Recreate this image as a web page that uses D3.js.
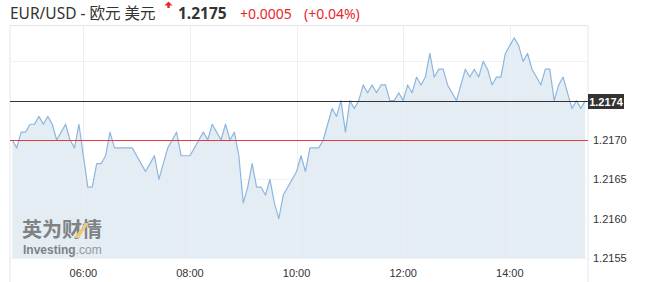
<!DOCTYPE html>
<html>
<head>
<meta charset="utf-8">
<script src="https://cdn.jsdelivr.net/npm/d3@7"></script>
<style>
  html, body { margin: 0; padding: 0; background: #fff; }
  svg { display: block; }
</style>
</head>
<body>
<div id="chart"></div>
<script>
// quote header
const symbol = 'EUR/USD - 欧元 美元';
const lastQuote = '1.2175';
const change = '+0.0005';
const changePct = '(+0.04%)';

// 5-minute closes, starting 04:40
const startTime = '2021-01-08T04:40';
const stepMinutes = 5;
const prices = [
    1.2170, 1.2169, 1.2171, 1.2171, 1.2172, 1.2172, 1.2173, 1.2172, 1.2173, 1.2172, 1.2170, 1.2171, 1.2172, 1.2170, 1.2169, 1.2172,
    1.2168, 1.2164, 1.2164, 1.2167, 1.2167, 1.2168, 1.2171, 1.2169, 1.2169, 1.2169, 1.2169, 1.2169,
    1.2168, 1.2167, 1.2166, 1.2167, 1.2168, 1.2165, 1.2167, 1.2169, 1.2170, 1.2171,
    1.2168, 1.2168, 1.2168, 1.2169, 1.2170, 1.2171, 1.2170, 1.2172, 1.2171, 1.2170, 1.2172, 1.2170, 1.2171,
    1.2168, 1.2162, 1.2164, 1.2167, 1.2164, 1.2164, 1.2163, 1.2165, 1.2162, 1.2160,
    1.2163, 1.2164, 1.2165, 1.2166, 1.2168, 1.2166, 1.2169, 1.2169, 1.2169, 1.2170,
    1.2172, 1.2174, 1.2173, 1.2175, 1.2171, 1.2175, 1.2174, 1.2175, 1.2177, 1.2176, 1.2177, 1.2176, 1.2177, 1.2177,
    1.2175, 1.2175, 1.2176, 1.2175, 1.2177, 1.2176, 1.2178, 1.2177, 1.2178, 1.2181, 1.2178,
    1.2179, 1.2179, 1.2177, 1.2176, 1.2175, 1.2177, 1.2179, 1.2178, 1.2179, 1.2178, 1.2180,
    1.2179, 1.2177, 1.2178, 1.2178, 1.2181, 1.2182, 1.2183, 1.2182, 1.2180, 1.2181,
    1.2179, 1.2178, 1.2177, 1.2179, 1.2179, 1.2175, 1.2177, 1.2178, 1.2176, 1.2174, 1.2175, 1.2174, 1.2175
];

const prevClose = 1.2170;
const currentPrice = 1.21749;
const xTickLabels = ['06:00', '08:00', '10:00', '12:00', '14:00'];
const yGridValues = [1.2155, 1.2160, 1.2165, 1.2170, 1.2175, 1.2180];
const yTickLabels = [1.2155, 1.2160, 1.2165, 1.2170];

const W = 648, H = 282;
const frame = { left: 10, right: 588, top: 25.5, bottom: 258 };

const parse = d3.timeParse('%Y-%m-%dT%H:%M');
const t0 = parse(startTime);
const data = prices.map((p, i) => ({ t: d3.timeMinute.offset(t0, i * stepMinutes), v: p }));

const svg = d3.select('#chart').append('svg')
    .attr('width', W)
    .attr('height', H)
    .style('font-family', '"Noto Sans", "Noto Sans CJK SC", sans-serif');

const x = d3.scaleTime()
    .domain(d3.extent(data, d => d.t))
    .range([12.3, 585.3]);

const y = d3.scaleLinear()
    .domain([1.2155, 1.2170])
    .range([258, 140]);

// frame
svg.append('path')
    .attr('d', `M${frame.left},${H}V${frame.top}H${frame.right}V${H}`)
    .attr('fill', 'none')
    .attr('stroke', '#e4e6ec')
    .attr('stroke-width', 1);

// horizontal grid
svg.append('g')
    .selectAll('line')
    .data(yGridValues)
    .enter()
    .append('line')
    .attr('x1', frame.left)
    .attr('x2', frame.right)
    .attr('y1', d => Math.round(y(d)) + 0.5)
    .attr('y2', d => Math.round(y(d)) + 0.5)
    .attr('stroke', '#f0f1f4');

// area + line
const area = d3.area()
    .x(d => x(d.t))
    .y0(y(1.2155))
    .y1(d => y(d.v));

svg.append('path')
    .datum(data)
    .attr('d', area)
    .attr('fill', '#e4edf4');

// vertical grid on top of area (faint)
const tickTimes = xTickLabels.map(s => parse(startTime.slice(0, 11) + s));
svg.append('g')
    .selectAll('line')
    .data(tickTimes)
    .enter()
    .append('line')
    .attr('x1', d => Math.round(x(d)) + 0.5)
    .attr('x2', d => Math.round(x(d)) + 0.5)
    .attr('y1', frame.top)
    .attr('y2', frame.bottom)
    .attr('stroke', '#eceff3');

const line = d3.line()
    .x(d => x(d.t))
    .y(d => y(d.v));

// watermark
const wm = svg.append('g').attr('opacity', 0.85);
wm.append('text')
    .attr('x', 22)
    .attr('y', 236.5)
    .attr('font-size', 20)
    .attr('font-weight', 'bold')
    .attr('fill', '#6f6f6f')
    .style('font-family', '"Noto Sans CJK SC", sans-serif')
    .text('英为财情');
wm.append('path')
    .attr('d', 'M85,223 L89,223 L79,238 L74,238 Z')
    .attr('fill', '#e9c46a');
const inv = wm.append('text')
    .attr('x', 23)
    .attr('y', 254)
    .attr('font-size', 12)
    .attr('fill', '#6f6f6f')
    .style('font-family', '"Liberation Sans", Arial, sans-serif');
inv.append('tspan').attr('font-weight', 'bold').text('Investing');
inv.append('tspan').attr('fill', '#8a8a8a').text('.com');

svg.append('path')
    .datum(data)
    .attr('d', line)
    .attr('fill', 'none')
    .attr('stroke', '#8db6de')
    .attr('stroke-width', 1.2)
    .attr('stroke-linejoin', 'round');

// previous close
svg.append('line')
    .attr('x1', frame.left)
    .attr('x2', frame.right)
    .attr('y1', Math.round(y(prevClose)) + 0.5)
    .attr('y2', Math.round(y(prevClose)) + 0.5)
    .attr('stroke', '#e33b3b');

// current price
const cy = Math.round(y(currentPrice)) + 0.5;
svg.append('line')
    .attr('x1', frame.left)
    .attr('x2', frame.right)
    .attr('y1', cy)
    .attr('y2', cy)
    .attr('stroke', '#333');

svg.append('rect')
    .attr('x', 588)
    .attr('y', cy - 7.5)
    .attr('width', 36)
    .attr('height', 15)
    .attr('fill', '#333');
svg.append('text')
    .attr('x', 606)
    .attr('y', cy + 4)
    .attr('text-anchor', 'middle')
    .attr('font-size', 11)
    .attr('font-weight', 'bold')
    .attr('fill', '#fff')
    .style('font-family', '"Liberation Sans", Arial, sans-serif')
    .text((Math.floor(currentPrice * 1e4) / 1e4).toFixed(4));

// y labels
svg.append('g')
    .selectAll('text')
    .data(yTickLabels)
    .enter()
    .append('text')
    .attr('x', 593)
    .attr('y', d => y(d) + 4)
    .attr('font-size', 11)
    .attr('fill', '#333')
    .style('font-family', '"Liberation Sans", Arial, sans-serif')
    .text(d => d.toFixed(4));

// x labels
svg.append('g')
    .selectAll('text')
    .data(tickTimes)
    .enter()
    .append('text')
    .attr('x', d => x(d))
    .attr('y', 277)
    .attr('text-anchor', 'middle')
    .attr('font-size', 11)
    .attr('fill', '#333')
    .style('font-family', '"Liberation Sans", Arial, sans-serif')
    .text(d => d3.timeFormat('%H:%M')(d));

// header
svg.append('text')
    .attr('x', 10)
    .attr('y', 18.5)
    .attr('font-size', 15.5)
    .attr('fill', '#333')
    .text(symbol);

svg.append('path')
    .attr('d', 'M168.5,1.5 L172.5,5.5 L169.7,5.5 L169.7,8 L167.3,8 L167.3,5.5 L164.5,5.5 Z')
    .attr('fill', '#e8262b');

svg.append('text')
    .attr('x', 178)
    .attr('y', 18.5)
    .attr('font-size', 15.5)
    .attr('font-weight', 'bold')
    .attr('fill', '#333')
    .text(lastQuote);

svg.append('text')
    .attr('x', 240)
    .attr('y', 18.5)
    .attr('font-size', 14)
    .attr('fill', '#e8262b')
    .text(change);

svg.append('text')
    .attr('x', 304)
    .attr('y', 18.5)
    .attr('font-size', 14)
    .attr('fill', '#e8262b')
    .text(changePct);
</script>
</body>
</html>
